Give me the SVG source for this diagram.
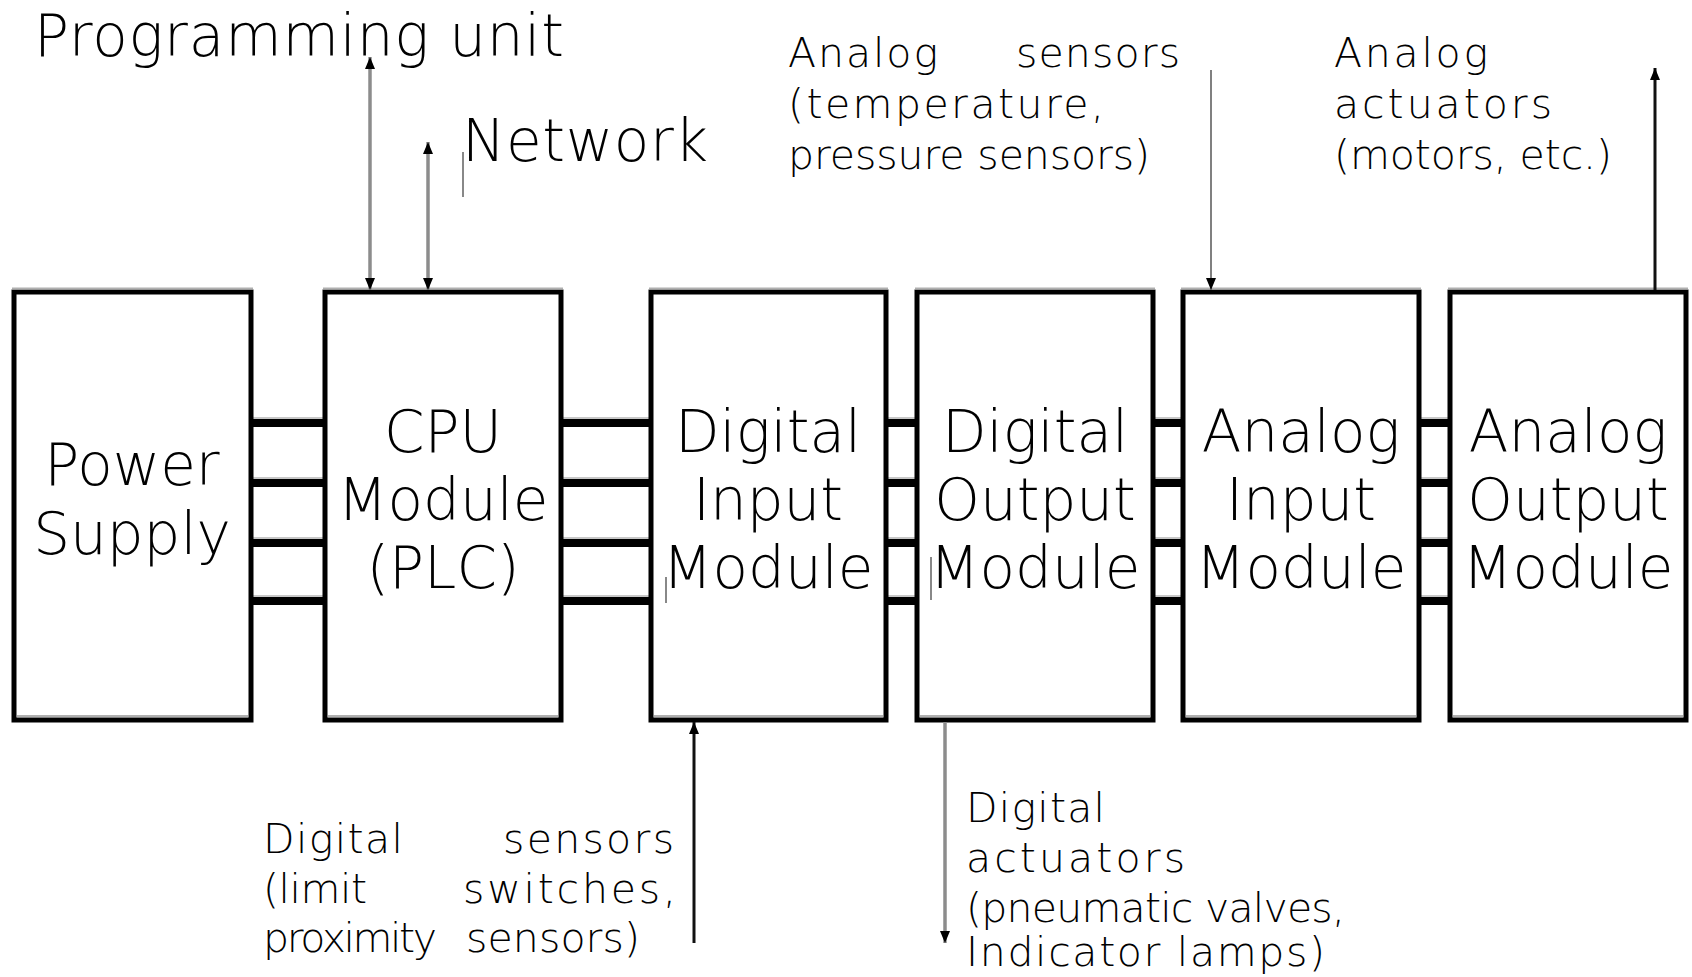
<svg xmlns="http://www.w3.org/2000/svg" width="1692" height="977" viewBox="0 0 1692 977">
<defs>
<style>
.box{fill:#fff;stroke:#000;stroke-width:5}
.shade{stroke:#b0b0b0;stroke-width:2;fill:none}
.big{font-family:"DejaVu Sans","Liberation Sans",sans-serif;font-size:58px;font-weight:200;fill:#000;text-anchor:middle}
.top{font-family:"DejaVu Sans","Liberation Sans",sans-serif;font-size:58px;font-weight:200;fill:#000}
.lbl{font-family:"DejaVu Sans","Liberation Sans",sans-serif;font-size:41px;font-weight:200;fill:#000}
.bar{fill:#000}
.barshade{fill:#c8c8c8}
.gline{stroke:#8c8c8c;stroke-width:3.5;fill:none}
.gthin{stroke:#808080;stroke-width:2;fill:none}
.bline{stroke:#111;stroke-width:3;fill:none}
.cursor{stroke:#888;stroke-width:2;fill:none}
</style>
<marker id="ah" viewBox="0 0 12 10" markerWidth="12" markerHeight="10" refX="12" refY="5" orient="auto-start-reverse" markerUnits="userSpaceOnUse">
<path d="M0,0 L12,5 L0,10 z" fill="#000"/>
</marker>
</defs>
<rect width="1692" height="977" fill="#fff"/>

<g id="bus">
<rect class="barshade" x="251" y="417" width="74" height="2"/><rect class="bar" x="251" y="419" width="74" height="8"/>
<rect class="barshade" x="251" y="477" width="74" height="2"/><rect class="bar" x="251" y="479" width="74" height="8"/>
<rect class="barshade" x="251" y="537" width="74" height="2"/><rect class="bar" x="251" y="539" width="74" height="8"/>
<rect class="barshade" x="251" y="595" width="74" height="2"/><rect class="bar" x="251" y="597" width="74" height="8"/>

<rect class="barshade" x="561" y="417" width="90" height="2"/><rect class="bar" x="561" y="419" width="90" height="8"/>
<rect class="barshade" x="561" y="477" width="90" height="2"/><rect class="bar" x="561" y="479" width="90" height="8"/>
<rect class="barshade" x="561" y="537" width="90" height="2"/><rect class="bar" x="561" y="539" width="90" height="8"/>
<rect class="barshade" x="561" y="595" width="90" height="2"/><rect class="bar" x="561" y="597" width="90" height="8"/>

<rect class="barshade" x="886" y="417" width="31" height="2"/><rect class="bar" x="886" y="419" width="31" height="8"/>
<rect class="barshade" x="886" y="477" width="31" height="2"/><rect class="bar" x="886" y="479" width="31" height="8"/>
<rect class="barshade" x="886" y="537" width="31" height="2"/><rect class="bar" x="886" y="539" width="31" height="8"/>
<rect class="barshade" x="886" y="595" width="31" height="2"/><rect class="bar" x="886" y="597" width="31" height="8"/>

<rect class="barshade" x="1153" y="417" width="30" height="2"/><rect class="bar" x="1153" y="419" width="30" height="8"/>
<rect class="barshade" x="1153" y="477" width="30" height="2"/><rect class="bar" x="1153" y="479" width="30" height="8"/>
<rect class="barshade" x="1153" y="537" width="30" height="2"/><rect class="bar" x="1153" y="539" width="30" height="8"/>
<rect class="barshade" x="1153" y="595" width="30" height="2"/><rect class="bar" x="1153" y="597" width="30" height="8"/>

<rect class="barshade" x="1419" y="417" width="31" height="2"/><rect class="bar" x="1419" y="419" width="31" height="8"/>
<rect class="barshade" x="1419" y="477" width="31" height="2"/><rect class="bar" x="1419" y="479" width="31" height="8"/>
<rect class="barshade" x="1419" y="537" width="31" height="2"/><rect class="bar" x="1419" y="539" width="31" height="8"/>
<rect class="barshade" x="1419" y="595" width="31" height="2"/><rect class="bar" x="1419" y="597" width="31" height="8"/>
</g>

<g id="power-supply">
<rect class="box" x="14" y="292" width="237" height="428"/>
<path class="shade" d="M12,288.5 H253 M17,716 H248"/>
<text class="big" x="132" y="485">Power</text>
<text class="big" x="132" y="554">Supply</text>
</g>

<g id="cpu-module">
<rect class="box" x="325" y="292" width="236" height="428"/>
<path class="shade" d="M323,288.5 H563 M328,716 H558"/>
<text class="big" x="443" y="452">CPU</text>
<text class="big" x="443" y="520">Module</text>
<text class="big" x="443" y="588">(PLC)</text>
</g>

<g id="digital-input-module">
<rect class="box" x="651" y="292" width="235" height="428"/>
<path class="shade" d="M649,288.5 H888 M654,716 H883"/>
<text class="big" x="768" y="452">Digital</text>
<text class="big" x="768" y="520">Input</text>
<text class="big" x="768" y="588">Module</text>
</g>

<g id="digital-output-module">
<rect class="box" x="917" y="292" width="236" height="428"/>
<path class="shade" d="M915,288.5 H1155 M920,716 H1150"/>
<text class="big" x="1035" y="452">Digital</text>
<text class="big" x="1035" y="520">Output</text>
<text class="big" x="1035" y="588">Module</text>
</g>

<g id="analog-input-module">
<rect class="box" x="1183" y="292" width="236" height="428"/>
<path class="shade" d="M1181,288.5 H1421 M1186,716 H1416"/>
<text class="big" x="1301" y="452">Analog</text>
<text class="big" x="1301" y="520">Input</text>
<text class="big" x="1301" y="588">Module</text>
</g>

<g id="analog-output-module">
<rect class="box" x="1450" y="292" width="236" height="428"/>
<path class="shade" d="M1448,288.5 H1688 M1453,716 H1683"/>
<text class="big" x="1568" y="452">Analog</text>
<text class="big" x="1568" y="520">Output</text>
<text class="big" x="1568" y="588">Module</text>
</g>

<g id="programming-unit">
<text class="top" x="34" y="56" textLength="530">Programming unit</text>
</g>

<g id="network">
<text class="top" x="462" y="161" textLength="246">Network</text>
</g>

<g id="analog-sensors">
<text class="lbl" y="67"><tspan x="788" textLength="150">Analog</tspan><tspan x="1016" textLength="164">sensors</tspan></text>
<text class="lbl" x="788" y="118" textLength="316">(temperature,</text>
<text class="lbl" x="788" y="169" textLength="362">pressure sensors)</text>
</g>

<g id="analog-actuators">
<text class="lbl" x="1334" y="67" textLength="154">Analog</text>
<text class="lbl" x="1334" y="118" textLength="218">actuators</text>
<text class="lbl" x="1334" y="169" textLength="278">(motors, etc.)</text>
</g>

<g id="digital-sensors">
<text class="lbl" y="853"><tspan x="263" textLength="140">Digital</tspan><tspan x="503" textLength="171">sensors</tspan></text>
<text class="lbl" y="903"><tspan x="263" textLength="104">(limit</tspan><tspan x="463" textLength="213">switches,</tspan></text>
<text class="lbl" y="952"><tspan x="263" textLength="174">proximity</tspan><tspan x="466" textLength="174">sensors)</tspan></text>
</g>

<g id="digital-actuators">
<text class="lbl" x="966" y="822" textLength="139">Digital</text>
<text class="lbl" x="966" y="872" textLength="219">actuators</text>
<text class="lbl" x="966" y="922" textLength="379">(pneumatic valves,</text>
<text class="lbl" x="966" y="966" textLength="359">Indicator lamps)</text>
</g>

<g id="connectors">
<line class="gline" x1="370" y1="290" x2="370" y2="57" marker-start="url(#ah)" marker-end="url(#ah)"/>
<line class="gline" x1="428" y1="290" x2="428" y2="142" marker-start="url(#ah)" marker-end="url(#ah)"/>
<line class="gthin" x1="1211" y1="70" x2="1211" y2="290" marker-end="url(#ah)"/>
<line class="bline" x1="1655" y1="290" x2="1655" y2="68" marker-end="url(#ah)"/>
<line class="bline" x1="694" y1="943" x2="694" y2="722" marker-end="url(#ah)"/>
<line class="gline" x1="945" y1="722" x2="945" y2="943" marker-end="url(#ah)"/>
</g>

<g id="cursor-marks">
<line class="cursor" x1="463" y1="152" x2="463" y2="197"/>
<line class="cursor" x1="666" y1="577" x2="666" y2="603"/>
<line class="cursor" x1="931" y1="557" x2="931" y2="600"/>
</g>
</svg>
